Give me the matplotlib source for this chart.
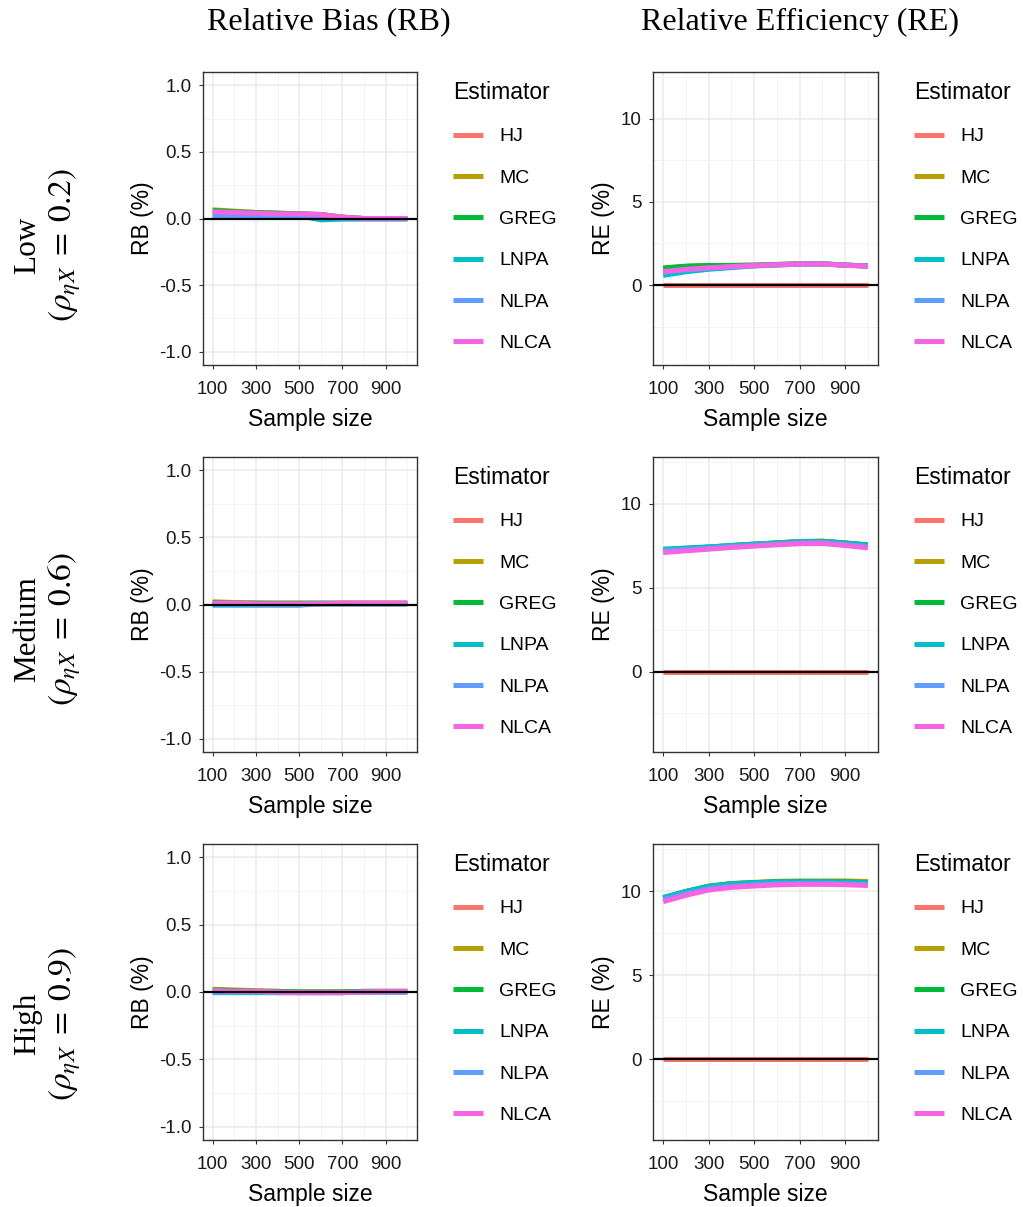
import matplotlib.pyplot as plt
from matplotlib.lines import Line2D
import numpy as np

# tamaños de muestra y estimadores
sample_size = [100, 200, 300, 400, 500, 600, 700, 800, 900, 1000]
estimators = ["HJ", "MC", "GREG", "LNPA", "NLPA", "NLCA"]
colors = ["#F8766D", "#B79F00", "#00BA38", "#00BFC4", "#619CFF", "#F564E3"]

row_names = ["Low", "Medium", "High"]
row_rho = ["0.2", "0.6", "0.9"]

# RB (%) por fila: una lista por estimador (HJ, MC, GREG, LNPA, NLPA, NLCA)
rb_low = [
    [0.02, 0.02, 0.02, 0.015, 0.015, 0.01, 0.0, 0.0, 0.0, 0.0],
    [0.065, 0.055, 0.045, 0.04, 0.035, 0.03, 0.01, 0.0, 0.0, 0.0],
    [0.06, 0.05, 0.045, 0.04, 0.035, 0.03, 0.01, 0.0, 0.0, 0.0],
    [0.015, 0.015, 0.02, 0.02, 0.02, -0.01, -0.005, -0.005, -0.005, -0.005],
    [0.02, 0.02, 0.02, 0.02, 0.02, 0.01, 0.0, 0.0, 0.0, 0.0],
    [0.05, 0.045, 0.04, 0.035, 0.035, 0.03, 0.01, 0.0, 0.0, 0.0],
]
rb_medium = [
    [0.01, 0.01, 0.01, 0.005, 0.005, 0.005, 0.005, 0.005, 0.005, 0.005],
    [0.02, 0.015, 0.01, 0.01, 0.01, 0.01, 0.01, 0.01, 0.01, 0.01],
    [0.015, 0.01, 0.01, 0.01, 0.01, 0.01, 0.01, 0.01, 0.01, 0.01],
    [-0.005, -0.005, -0.005, -0.005, -0.005, 0.005, 0.005, 0.005, 0.005, 0.005],
    [0.0, 0.0, 0.0, 0.0, 0.0, 0.005, 0.005, 0.005, 0.005, 0.005],
    [0.01, 0.01, 0.005, 0.005, 0.005, 0.005, 0.01, 0.01, 0.01, 0.01],
]
rb_high = [
    [0.005, 0.005, 0.0, 0.0, 0.0, 0.0, 0.0, 0.0, 0.0, 0.0],
    [0.02, 0.015, 0.01, 0.005, 0.0, 0.0, 0.0, 0.005, 0.005, 0.005],
    [0.015, 0.01, 0.005, 0.005, 0.0, 0.0, 0.0, 0.005, 0.005, 0.005],
    [-0.005, -0.005, -0.005, -0.005, -0.005, -0.005, -0.005, 0.0, 0.0, 0.0],
    [0.0, 0.0, 0.0, -0.005, -0.005, -0.005, -0.005, 0.0, 0.0, 0.0],
    [0.01, 0.005, 0.005, 0.0, -0.005, -0.005, -0.005, 0.0, 0.005, 0.005],
]

# RE (%) por fila
re_low = [
    [0, 0, 0, 0, 0, 0, 0, 0, 0, 0],
    [1.0, 1.12, 1.17, 1.18, 1.2, 1.24, 1.28, 1.28, 1.2, 1.15],
    [1.03, 1.14, 1.18, 1.18, 1.2, 1.24, 1.28, 1.28, 1.2, 1.15],
    [0.58, 0.8, 0.95, 1.05, 1.15, 1.2, 1.26, 1.27, 1.2, 1.15],
    [0.75, 0.92, 1.02, 1.1, 1.16, 1.22, 1.27, 1.27, 1.2, 1.15],
    [0.82, 0.95, 1.04, 1.11, 1.17, 1.22, 1.27, 1.27, 1.19, 1.13],
]
re_medium = [
    [0, 0, 0, 0, 0, 0, 0, 0, 0, 0],
    [7.25, 7.35, 7.42, 7.52, 7.6, 7.68, 7.76, 7.78, 7.68, 7.56],
    [7.25, 7.34, 7.42, 7.51, 7.6, 7.67, 7.75, 7.77, 7.67, 7.55],
    [7.3, 7.37, 7.44, 7.52, 7.6, 7.67, 7.75, 7.76, 7.66, 7.55],
    [7.2, 7.28, 7.36, 7.45, 7.53, 7.6, 7.68, 7.7, 7.58, 7.45],
    [7.1, 7.2, 7.3, 7.4, 7.48, 7.56, 7.63, 7.64, 7.52, 7.38],
]
re_high = [
    [0, 0, 0, 0, 0, 0, 0, 0, 0, 0],
    [9.6, 9.98, 10.3, 10.45, 10.52, 10.58, 10.6, 10.6, 10.6, 10.57],
    [9.58, 9.97, 10.28, 10.44, 10.5, 10.55, 10.57, 10.57, 10.55, 10.5],
    [9.62, 9.98, 10.28, 10.43, 10.5, 10.54, 10.55, 10.55, 10.52, 10.48],
    [9.5, 9.85, 10.15, 10.3, 10.38, 10.43, 10.45, 10.45, 10.42, 10.38],
    [9.37, 9.75, 10.06, 10.22, 10.3, 10.37, 10.4, 10.4, 10.38, 10.33],
]

rb_data = [rb_low, rb_medium, rb_high]
re_data = [re_low, re_medium, re_high]

W, H = 1023, 1207
fig = plt.figure(figsize=(W / 100, H / 100), dpi=100)

def px_axes(x0, y0, x1, y1):
    # convierte un rectángulo en píxeles (origen arriba a la izquierda) en coordenadas de figura
    return fig.add_axes([x0 / W, 1 - y1 / H, (x1 - x0) / W, (y1 - y0) / H])

def style_axes(ax, ylim, yticks, yminor, ylabel, yfmt):
    ax.set_facecolor("white")
    ax.set_xlim(55, 1045)
    ax.set_ylim(*ylim)
    ax.set_xticks([100, 300, 500, 700, 900])
    ax.set_xticks([200, 400, 600, 800, 1000], minor=True)
    ax.set_yticks(yticks)
    ax.set_yticklabels([yfmt(v) for v in yticks])
    ax.set_yticks(yminor, minor=True)
    ax.grid(True, which="major", color="#EBEBEB", linewidth=1.1, zorder=0)
    ax.grid(True, which="minor", color="#F3F3F3", linewidth=0.6, zorder=0)
    ax.set_axisbelow(True)
    for s in ax.spines.values():
        s.set_color("#333333")
        s.set_linewidth(1.0)
    ax.tick_params(which="major", length=3, width=0.8, color="#333333",
                   labelsize=13.5, labelcolor="#1A1A1A")
    ax.tick_params(axis="x", which="major", pad=8.5)
    ax.tick_params(axis="y", which="major", pad=5)
    ax.tick_params(which="minor", length=0)
    ax.set_xlabel("Sample size", fontsize=16.5, labelpad=7)
    ax.set_ylabel(ylabel, fontsize=16.5, labelpad=4)
    for lab in ax.get_xticklabels() + ax.get_yticklabels():
        lab.set_family("Liberation Sans")
    ax.xaxis.label.set_family("Liberation Sans")
    ax.yaxis.label.set_family("Liberation Sans")

def add_legend(ax, x_px, y_px):
    handles = [Line2D([], [], color=c, linewidth=3.6, solid_capstyle="butt") for c in colors]
    leg = ax.legend(handles, estimators, title="Estimator", loc="upper left",
                    bbox_to_anchor=(x_px / W, 1 - y_px / H), bbox_transform=fig.transFigure,
                    frameon=False, handlelength=1.55, handletextpad=0.82, labelspacing=1.22,
                    borderaxespad=0, borderpad=0, alignment="left",
                    prop={"family": "Liberation Sans", "size": 14})
    leg.get_title().set_family("Liberation Sans")
    leg.get_title().set_fontsize(16.5)

rows_y = [(72, 365), (457, 752), (844, 1140)]
row_label_y = [245, 629, 1024]

for i, (y0, y1) in enumerate(rows_y):
    # Sesgo relativo
    ax = px_axes(203, y0, 417, y1)
    for k, est in enumerate(estimators):
        ax.plot(sample_size, rb_data[i][k], color=colors[k], linewidth=3.6,
                solid_capstyle="butt", zorder=2 + k)
    ax.axhline(0, color="black", linewidth=1.6, zorder=10)
    style_axes(ax, (-1.1, 1.1), [-1.0, -0.5, 0.0, 0.5, 1.0],
               [-0.75, -0.25, 0.25, 0.75], "RB (%)", lambda v: f"{v:.1f}")
    add_legend(ax, 453, y0 + 9)

    # Eficiencia relativa
    ax2 = px_axes(653, y0, 878, y1)
    for k, est in enumerate(estimators):
        ax2.plot(sample_size, re_data[i][k], color=colors[k], linewidth=3.6,
                 solid_capstyle="butt", zorder=2 + k)
    ax2.axhline(0, color="black", linewidth=1.6, zorder=10)
    style_axes(ax2, (-4.8, 12.8), [0, 5, 10], [-2.5, 2.5, 7.5, 12.5],
               "RE (%)", lambda v: f"{v:d}")
    add_legend(ax2, 914, y0 + 9)

    # Etiquetas de fila
    yc = 1 - row_label_y[i] / H
    fig.text(28 / W, yc, row_names[i], rotation=90, ha="center", va="center",
             fontsize=22.5, family="Liberation Serif")
    fig.text(65 / W, yc, r"$(\rho_{\eta X}\;=\;%s)$" % row_rho[i], rotation=90,
             ha="center", va="center", fontsize=24, math_fontfamily="stix")

fig.text(329 / W, 1 - 22 / H, "Relative Bias (RB)", ha="center", va="center",
         fontsize=23, family="Liberation Serif")
fig.text(800 / W, 1 - 22 / H, "Relative Efficiency (RE)", ha="center", va="center",
         fontsize=23, family="Liberation Serif")

fig.savefig("out.png", dpi=100, facecolor="white")
